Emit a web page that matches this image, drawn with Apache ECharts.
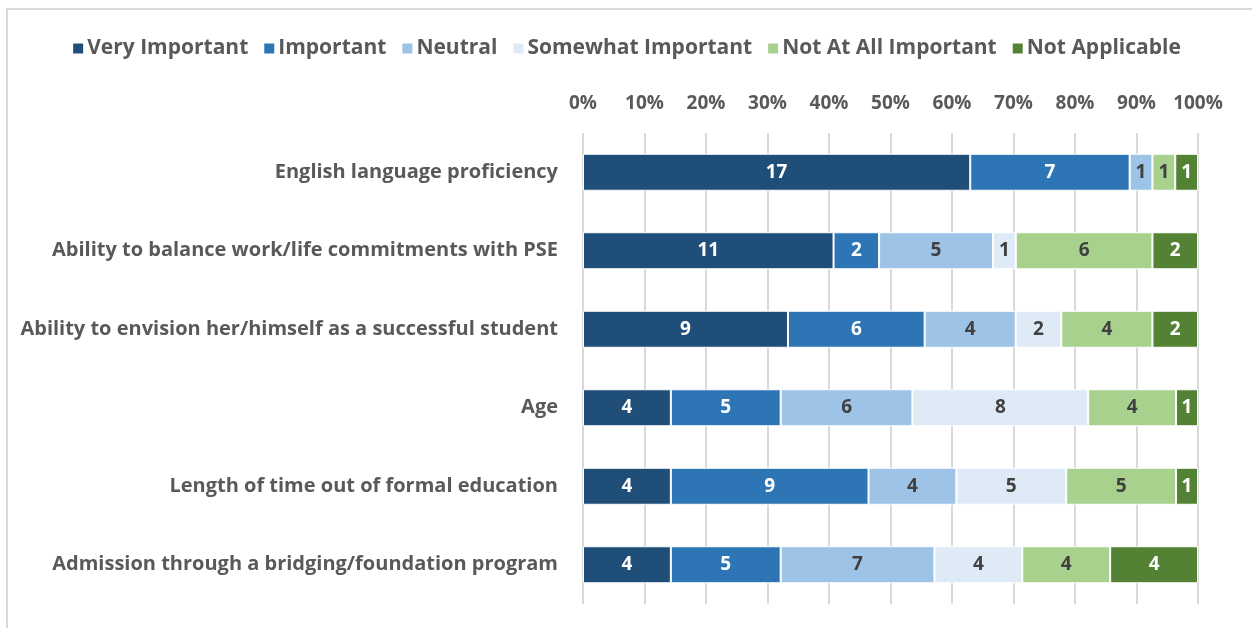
<!DOCTYPE html>
<html>
<head>
<meta charset="utf-8">
<script src="https://cdn.jsdelivr.net/npm/echarts@6/dist/echarts.min.js"></script>
<style>
  html, body { margin: 0; padding: 0; background: #fff; overflow: hidden; }
  #frame { position: absolute; left: 6px; top: 8px; width: 1400px; height: 800px; border: 2px solid #d9d9d9; }
  #main { position: absolute; left: 0; top: 0; width: 1252px; height: 628px; }
</style>
</head>
<body>
<div id="frame"></div>
<div id="main"></div>
<script>
// categories, top to bottom
let categories = [
  'English language proficiency',
  'Ability to balance work/life commitments with PSE',
  'Ability to envision her/himself as a successful student',
  'Age',
  'Length of time out of formal education',
  'Admission through a bridging/foundation program'
];
let seriesNames = ['Very Important', 'Important', 'Neutral', 'Somewhat Important', 'Not At All Important', 'Not Applicable'];
let seriesColors = ['#1f4e79', '#2e75b6', '#9dc3e6', '#deebf7', '#a9d18e', '#548235'];
let labelColors = ['#fff', '#fff', '#404040', '#404040', '#404040', '#fff'];

// counts per category (same order as categories)
let veryImportant     = [17, 11, 9, 4, 4, 4];
let important         = [7, 2, 6, 5, 9, 5];
let neutral           = [1, 5, 4, 6, 4, 7];
let somewhatImportant = [0, 1, 2, 8, 5, 4];
let notAtAll          = [1, 6, 4, 4, 5, 4];
let notApplicable     = [1, 2, 2, 1, 1, 4];
let counts = [veryImportant, important, neutral, somewhatImportant, notAtAll, notApplicable];

let totals = categories.map((c, i) => counts.reduce((s, arr) => s + arr[i], 0));

let font = 'Open Sans';
let chart = echarts.init(document.getElementById('main'));
let option = {
  animation: false,
  textStyle: { fontFamily: font },
  legend: {
    top: 33,
    left: 'center',
    itemWidth: 12,
    itemHeight: 12,
    itemGap: 14,
    icon: 'rect',
    textStyle: { color: '#595959', fontSize: 21, fontWeight: 'bold', fontFamily: font, padding: [0, 0, 0, -2] },
    data: seriesNames
  },
  grid: {
    left: 583,
    right: 54,
    top: 133,
    bottom: 24
  },
  xAxis: {
    type: 'value',
    position: 'top',
    min: 0,
    max: 100,
    interval: 10,
    axisLine: { show: false },
    axisTick: { show: false },
    axisLabel: {
      formatter: '{value}%',
      color: '#595959',
      fontSize: 19,
      fontWeight: 'bold',
      fontFamily: font,
      margin: 20
    },
    splitLine: { lineStyle: { color: '#d9d9d9', width: 2 } }
  },
  yAxis: {
    type: 'category',
    inverse: true,
    data: categories,
    axisLine: { show: false },
    axisTick: { show: false },
    axisLabel: {
      color: '#595959',
      fontSize: 20,
      fontWeight: 'bold',
      fontFamily: font,
      margin: 25
    }
  },
  series: counts.map((arr, k) => ({
    name: seriesNames[k],
    type: 'bar',
    stack: 'total',
    barWidth: 37,
    itemStyle: {
      color: seriesColors[k],
      borderColor: '#fff',
      borderWidth: 1
    },
    label: {
      show: true,
      position: 'inside',
      color: labelColors[k],
      fontSize: 19,
      fontWeight: 'bold',
      fontFamily: font,
      formatter: p => p.data.count > 0 ? p.data.count : ''
    },
    data: arr.map((v, i) => ({ value: v / totals[i] * 100, count: v }))
  }))
};
chart.setOption(option);
</script>
</body>
</html>
